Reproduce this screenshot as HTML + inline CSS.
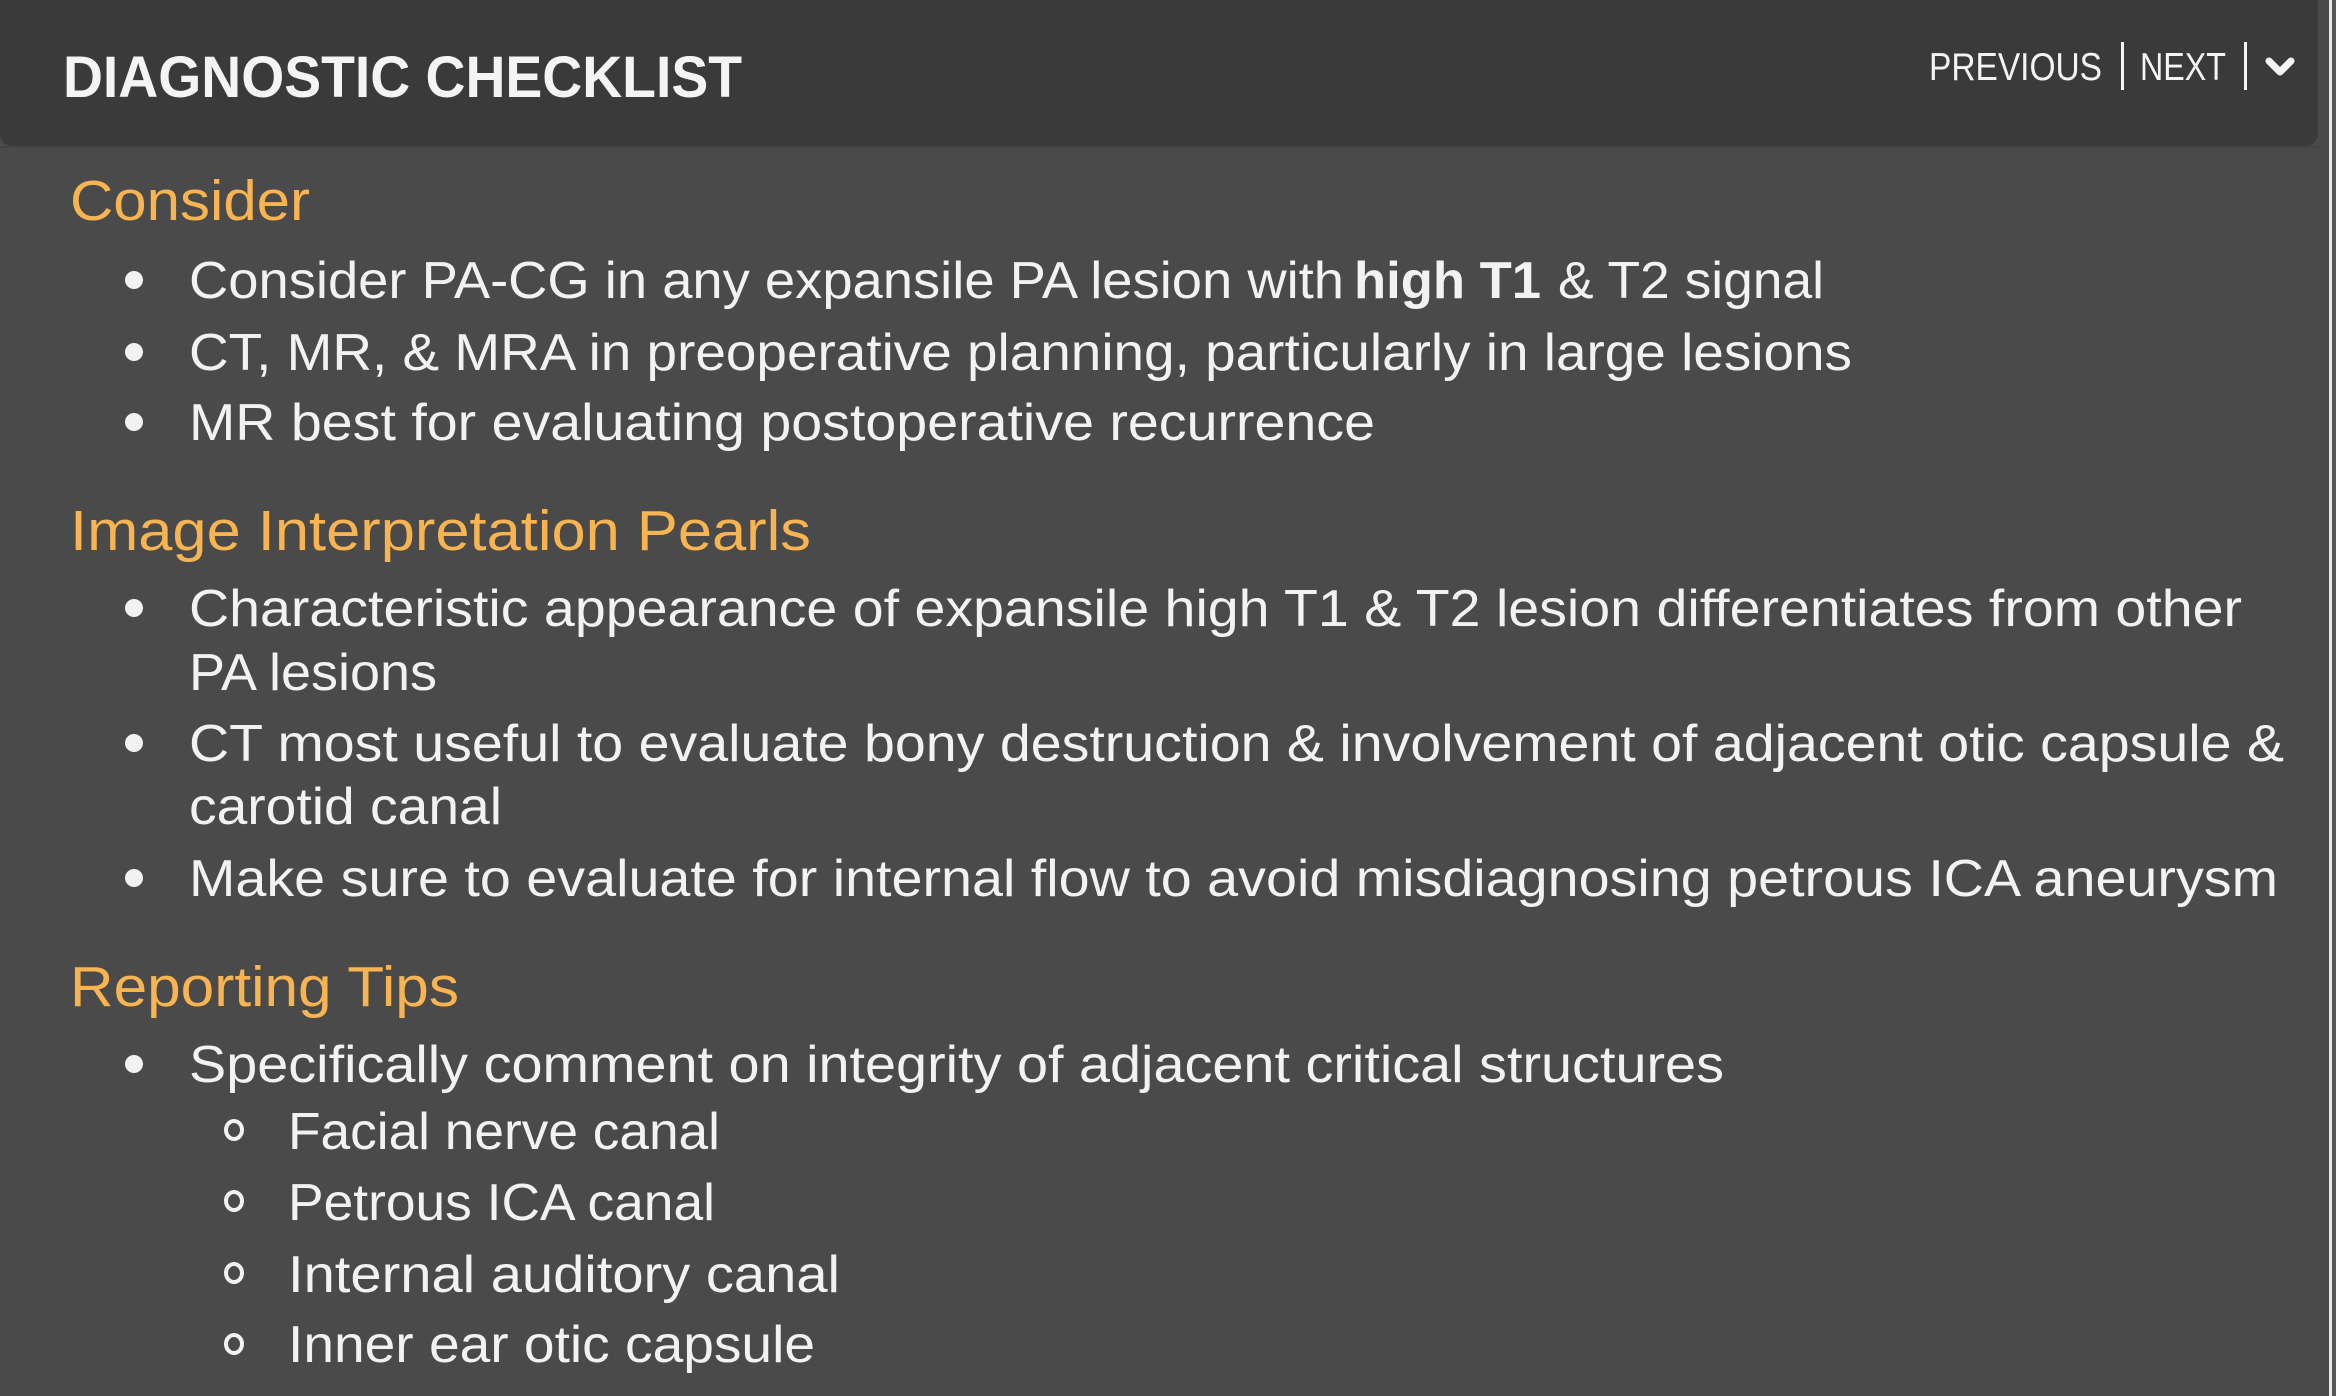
<!DOCTYPE html>
<html><head><meta charset="utf-8"><style>
html,body{margin:0;padding:0;background:#4a4a4a;}
svg{display:block}
text{font-family:"Liberation Sans",sans-serif;}
</style></head><body>
<svg width="2336" height="1396" viewBox="0 0 2336 1396">
<rect x="0" y="0" width="2336" height="1396" fill="#4a4a4a"/>
<rect x="2331" y="0" width="5" height="1396" fill="#585858"/>
<rect x="2329" y="0" width="3" height="1396" fill="#e8e8e8"/>
<g>
<rect x="0" y="-12" width="2318" height="158" rx="12" fill="#3a3a3a"/>
<rect x="0" y="146" width="2318" height="2" fill="#444"/>
<text x="63" y="97" font-size="58" font-weight="bold" fill="#f4f4f4" textLength="679" lengthAdjust="spacingAndGlyphs">DIAGNOSTIC CHECKLIST</text>
<text x="1929" y="80" font-size="39" fill="#f4f4f4" textLength="173" lengthAdjust="spacingAndGlyphs">PREVIOUS</text>
<rect x="2121" y="42" width="3" height="48" fill="#f4f4f4"/>
<text x="2140" y="80" font-size="39" fill="#f4f4f4" textLength="86" lengthAdjust="spacingAndGlyphs">NEXT</text>
<rect x="2244" y="42" width="3" height="48" fill="#f4f4f4"/>
<polyline points="2269,61 2280,72 2291,61" fill="none" stroke="#f4f4f4" stroke-width="7" stroke-linecap="round" stroke-linejoin="round"/>
</g>
<g fill="#f8b451" font-size="57">
<text x="70" y="220" textLength="240" lengthAdjust="spacingAndGlyphs">Consider</text>
<text x="70" y="550" textLength="741" lengthAdjust="spacingAndGlyphs">Image Interpretation Pearls</text>
<text x="70" y="1006" textLength="389" lengthAdjust="spacingAndGlyphs">Reporting Tips</text>
</g>
<g fill="#f2f2f2" font-size="52">
<circle cx="134" cy="280" r="9"/><circle cx="134" cy="352" r="9"/><circle cx="134" cy="422" r="9"/>
<circle cx="134" cy="608" r="9"/><circle cx="134" cy="743" r="9"/><circle cx="134" cy="878" r="9"/>
<circle cx="134" cy="1064" r="9"/>
<text x="189" y="298" textLength="1155" lengthAdjust="spacingAndGlyphs">Consider PA-CG in any expansile PA lesion with</text>
<text x="1354" y="298" font-weight="bold" textLength="187" lengthAdjust="spacingAndGlyphs">high T1</text>
<text x="1558" y="298" textLength="266" lengthAdjust="spacingAndGlyphs">&amp; T2 signal</text>
<text x="189" y="370" textLength="1663" lengthAdjust="spacingAndGlyphs">CT, MR, &amp; MRA in preoperative planning, particularly in large lesions</text>
<text x="189" y="440" textLength="1186" lengthAdjust="spacingAndGlyphs">MR best for evaluating postoperative recurrence</text>
<text x="189" y="626" textLength="2053" lengthAdjust="spacingAndGlyphs">Characteristic appearance of expansile high T1 &amp; T2 lesion differentiates from other</text>
<text x="189" y="690" textLength="248" lengthAdjust="spacingAndGlyphs">PA lesions</text>
<text x="189" y="761" textLength="2095" lengthAdjust="spacingAndGlyphs">CT most useful to evaluate bony destruction &amp; involvement of adjacent otic capsule &amp;</text>
<text x="189" y="824" textLength="313" lengthAdjust="spacingAndGlyphs">carotid canal</text>
<text x="189" y="896" textLength="2089" lengthAdjust="spacingAndGlyphs">Make sure to evaluate for internal flow to avoid misdiagnosing petrous ICA aneurysm</text>
<text x="189" y="1082" textLength="1535" lengthAdjust="spacingAndGlyphs">Specifically comment on integrity of adjacent critical structures</text>
<g fill="none" stroke="#f2f2f2" stroke-width="4">
<ellipse cx="234" cy="1130" rx="8" ry="9"/><ellipse cx="234" cy="1201" rx="8" ry="9"/><ellipse cx="234" cy="1273" rx="8" ry="9"/><ellipse cx="234" cy="1344" rx="8" ry="9"/>
</g>
<text x="288" y="1149" textLength="432" lengthAdjust="spacingAndGlyphs">Facial nerve canal</text>
<text x="288" y="1220" textLength="427" lengthAdjust="spacingAndGlyphs">Petrous ICA canal</text>
<text x="288" y="1292" textLength="552" lengthAdjust="spacingAndGlyphs">Internal auditory canal</text>
<text x="288" y="1362" textLength="527" lengthAdjust="spacingAndGlyphs">Inner ear otic capsule</text>
</g>
</svg>
</body></html>
